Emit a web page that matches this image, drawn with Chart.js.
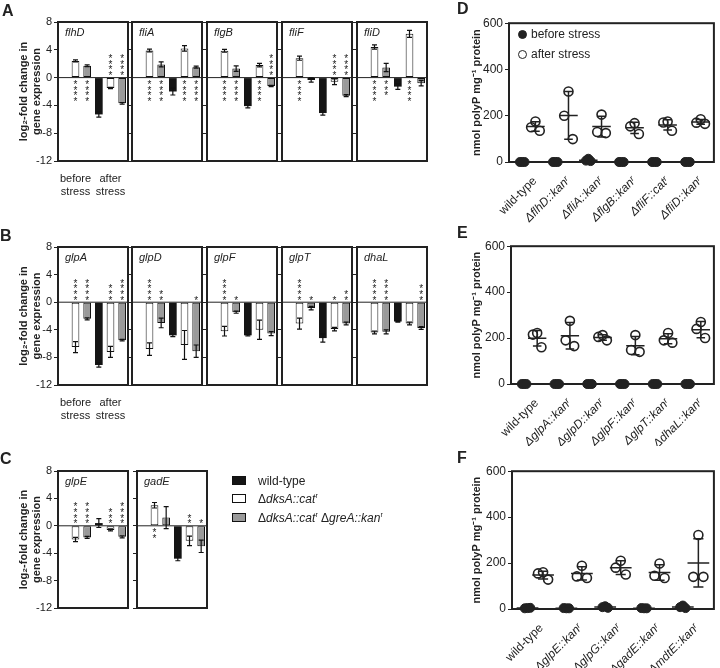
<!DOCTYPE html>
<html>
<head>
<meta charset="utf-8">
<script src="https://cdn.jsdelivr.net/npm/chart.js@4.4.1/dist/chart.umd.min.js"></script>
<style>
body{margin:0;background:#fff;}
#fig{position:relative;width:720px;height:668px;background:#fff;overflow:hidden;
  font-family:'Liberation Sans',Arial,Helvetica,sans-serif;color:#222;}
.pane{position:absolute;}
.tag{position:absolute;font-weight:bold;font-size:16px;line-height:16px;}
.lg{position:absolute;font-size:12px;line-height:14px;white-space:nowrap;}
.sq{position:absolute;width:14px;height:9px;box-sizing:border-box;border:1px solid #111;}
.dot{position:absolute;width:9px;height:9px;border-radius:50%;box-sizing:border-box;border:1.5px solid #222;}
sup{font-size:7px;line-height:0;}
</style>
</head>
<body>
<div id="fig"></div>
<script>
const FONT = "'Liberation Sans', Arial, Helvetica, sans-serif";
const INK = '#222';

// ---- bar panels (A-C): log2-fold change in gene expression ----
const groups = ['before stress', 'after stress'];
const strains = ['wild-type', 'ΔdksA::catʳ', 'ΔdksA::catʳ ΔgreA::kanʳ'];
const logTicks = [-12, 8, 4];   // min, max, step
// order: before wt, before dksA, before dksA greA, after wt, after dksA, after dksA greA
const flhD = [0, 2.4, 1.7, -5.3, -1.5, -3.7];
const flhD_sd = [0, 0.15, 0.12, 0.4, 0.1, 0.12];
const flhD_sig = ['', '****', '****', '', '****', '****'];
const fliA = [0, 3.9, 1.9, -2.0, 4.2, 1.5];
const fliA_sd = [0, 0.2, 0.35, 0.5, 0.4, 0.15];
const fliA_sig = ['', '****', '****', '', '****', '****'];
const flgB = [0, 3.85, 1.3, -4.1, 1.8, -1.2];
const flgB_sd = [0, 0.2, 0.4, 0.25, 0.25, 0.1];
const flgB_sig = ['', '****', '****', '', '****', '****'];
const fliF = [0, 2.8, -0.35, -5.1, -0.6, -2.6];
const fliF_sd = [0, 0.3, 0.3, 0.3, 0.4, 0.15];
const fliF_sig = ['', '****', '', '', '****', '****'];
const fliD = [0, 4.4, 1.45, -1.3, 6.3, -0.8];
const fliD_sd = [0, 0.3, 0.6, 0.4, 0.5, 0.4];
const fliD_sig = ['', '****', '***', '', '****', ''];

const glpA = [0, -6.5, -2.4, -9.1, -7.2, -5.5];
const glpA_sd = [0, 0.8, 0.15, 0.3, 0.8, 0.1];
const glpA_sig = ['', '****', '****', '', '***', '****'];
const glpD = [0, -6.8, -3.0, -4.8, -6.2, -7.1];
const glpD_sd = [0, 0.9, 0.7, 0.2, 2.1, 0.9];
const glpD_sig = ['', '****', '**', '', '', '*'];
const glpF = [0, -4.2, -1.45, -4.8, -4.0, -4.55];
const glpF_sd = [0, 0.7, 0.15, 0.1, 1.4, 0.3];
const glpF_sig = ['', '****', '*', '', '', ''];
const glpT = [0, -3.1, -0.85, -5.2, -3.9, -3.1];
const glpT_sd = [0, 0.8, 0.25, 0.6, 0.25, 0.2];
const glpT_sig = ['', '****', '*', '', '*', '**'];
const dhaL = [0, -4.4, -4.3, -2.8, -3.1, -3.75];
const dhaL_sd = [0, 0.2, 0.3, 0.1, 0.2, 0.2];
const dhaL_sig = ['', '****', '****', '', '', '***'];

const glpE = [0, -2.0, -1.7, 0.4, -0.6, -1.6];
const glpE_sd = [0, 0.3, 0.15, 0.65, 0.15, 0.15];
const glpE_sig = ['', '****', '****', '', '***', '****'];
const gadE = [0, 3.0, 1.2, -4.8, -2.2, -3.0];
const gadE_sd = [0, 0.4, 1.6, 0.3, 0.7, 0.9];
const gadE_sig = ['', '**', '', '', '**', '*'];

// ---- dot plots (D-F): nmol polyP mg-1 protein ----
const polyTicks = [0, 600, 200];
const dNames = ['wild-type', 'ΔflhD::kanʳ', 'ΔfliA::kanʳ', 'ΔflgB::kanʳ', 'ΔfliF::catʳ', 'ΔfliD::kanʳ'];
const dBefore = [[0, 0, 0], [0, 0, 0], [14, 6, 4], [0, 0, 0], [0, 0, 0], [0, 0, 0]];
const dAfter = [[175, 150, 135], [305, 200, 99], [205, 130, 125], [168, 154, 121], [175, 171, 135], [185, 170, 165]];
const eNames = ['wild-type', 'ΔglpA::kanʳ', 'ΔglpD::kanʳ', 'ΔglpF::kanʳ', 'ΔglpT::kanʳ', 'ΔdhaL::kanʳ'];
const eBefore = [[0, 0, 0], [0, 0, 0], [0, 0, 0], [0, 0, 0], [0, 0, 0], [0, 0, 0]];
const eAfter = [[222, 215, 160], [275, 190, 165], [213, 205, 190], [213, 148, 140], [222, 190, 180], [270, 240, 200]];
const fNames = ['wild-type', 'ΔglpE::kanʳ', 'ΔglpG::kanʳ', 'ΔgadE::kanʳ', 'ΔmdtE::kanʳ'];
const fBefore = [[4, 3, 5], [3, 4, 3], [12, 8, 5], [3, 4, 3], [15, 8, 4]];
const fAfter = [[160, 155, 128], [188, 142, 135], [210, 180, 150], [198, 145, 135], [322, 140, 140]];

const fig = document.getElementById('fig');

function addCanvas(left, top, width, height) {
  const d = document.createElement('div');
  d.className = 'pane';
  Object.assign(d.style, {left: left + 'px', top: top + 'px', width: width + 'px', height: height + 'px'});
  const c = document.createElement('canvas');
  d.appendChild(c);
  fig.appendChild(d);
  return c;
}

const framePlugin = {
  id: 'frame',
  afterDraw(chart) {
    const {ctx, chartArea: a} = chart;
    ctx.save();
    ctx.strokeStyle = INK;
    ctx.lineWidth = 2;
    ctx.strokeRect(a.left, a.top, a.right - a.left, a.bottom - a.top);
    ctx.restore();
  }
};

const barExtras = {
  id: 'barExtras',
  beforeDatasetsDraw(chart) {
    const {ctx, chartArea: a, scales: {y}} = chart;
    const y0 = y.getPixelForValue(0);
    ctx.save();
    ctx.strokeStyle = INK;
    ctx.lineWidth = 1;
    ctx.beginPath(); ctx.moveTo(a.left, y0); ctx.lineTo(a.right, y0); ctx.stroke();
    ctx.restore();
  },
  afterDatasetsDraw(chart, args, opts) {
    const {ctx, chartArea: a, scales: {y}} = chart;
    const y0 = y.getPixelForValue(0);
    ctx.save();
    chart.data.datasets.forEach((ds, d) => {
      chart.getDatasetMeta(d).data.forEach((bar, i) => {
        const v = ds.data[i], e = ds.sd[i];
        if (e > 0) {
          const t = y.getPixelForValue(v + e), b = y.getPixelForValue(v - e);
          ctx.strokeStyle = '#111'; ctx.lineWidth = 1.2;
          ctx.beginPath();
          ctx.moveTo(bar.x, t); ctx.lineTo(bar.x, b);
          ctx.moveTo(bar.x - 2.5, t); ctx.lineTo(bar.x + 2.5, t);
          ctx.moveTo(bar.x - 2.5, b); ctx.lineTo(bar.x + 2.5, b);
          ctx.stroke();
        }
        const s = ds.sig[i];
        if (s) {
          ctx.fillStyle = INK;
          ctx.font = '10px ' + FONT;
          ctx.textAlign = 'center';
          ctx.textBaseline = 'alphabetic';
          const dir = v >= 0 ? 1 : -1;
          for (let k = 0; k < s.length; k++) {
            const cy = y0 + dir * (4.5 + k * 5.6);
            ctx.fillText('*', bar.x, cy + 5.8);
          }
        }
      });
    });
    ctx.fillStyle = INK;
    ctx.font = 'italic 11px ' + FONT;
    ctx.textAlign = 'left';
    ctx.textBaseline = 'top';
    ctx.fillText(opts.name, a.left + 7, a.top + 5);
    ctx.restore();
  }
};

function barPanel(name, vals, sd, sig, box, showY, showX) {
  const axisW = showY ? box.l : 5;
  const padT = 9, padB = 9, xH = 34;
  const left = box.l - axisW;
  const width = axisW + (box.r - box.l) + 3;
  const top = box.t - padT;
  const height = padT + (box.b - box.t) + (showX ? xH : padB);
  const cv = addCanvas(left, top, width, height);
  const fills = ['#151515', '#ffffff', '#9a9a9a'];
  new Chart(cv, {
    type: 'bar',
    data: {
      labels: groups.map(g => g.split(' ')),
      datasets: strains.map((s, k) => ({
        label: s,
        data: [vals[k], vals[k + 3]],
        sd: [sd[k], sd[k + 3]],
        sig: [sig[k], sig[k + 3]],
        backgroundColor: fills[k],
        borderColor: '#111',
        borderWidth: k === 0 ? 0 : 1,
        borderSkipped: false,
        barPercentage: 0.66,
        categoryPercentage: 1
      }))
    },
    options: {
      responsive: true, maintainAspectRatio: false, animation: false,
      layout: {padding: {top: padT, right: 3, bottom: showX ? 0 : padB, left: 0}},
      plugins: {legend: {display: false}, tooltip: {enabled: false}, barExtras: {name}},
      scales: {
        x: {
          display: showX,
          grid: {display: false}, border: {display: false},
          ticks: {color: INK, font: {size: 11, family: FONT}, padding: 3, maxRotation: 0},
          afterFit: s => { s.height = showX ? xH : 0; }
        },
        y: {
          min: logTicks[0], max: logTicks[1],
          ticks: {stepSize: logTicks[2], display: showY, color: INK, font: {size: 11, family: FONT}, padding: 2},
          grid: {drawOnChartArea: false, tickLength: 4, color: INK, lineWidth: 1},
          border: {display: false},
          title: {display: showY, text: ['log₂-fold change in', 'gene expression'], color: INK,
            font: {size: 11, weight: 'bold', family: FONT}, padding: {top: 17, bottom: 0}},
          afterFit: s => { s.width = axisW; }
        }
      }
    },
    plugins: [barExtras, framePlugin]
  });
}

const cols = [58, 132, 207, 282, 357];
const rowA = {t: 22, b: 161}, rowB = {t: 247, b: 385}, rowC = {t: 471, b: 608};
const panelsA = [['flhD', flhD, flhD_sd, flhD_sig], ['fliA', fliA, fliA_sd, fliA_sig], ['flgB', flgB, flgB_sd, flgB_sig],
  ['fliF', fliF, fliF_sd, fliF_sig], ['fliD', fliD, fliD_sd, fliD_sig]];
const panelsB = [['glpA', glpA, glpA_sd, glpA_sig], ['glpD', glpD, glpD_sd, glpD_sig], ['glpF', glpF, glpF_sd, glpF_sig],
  ['glpT', glpT, glpT_sd, glpT_sig], ['dhaL', dhaL, dhaL_sd, dhaL_sig]];
const panelsC = [['glpE', glpE, glpE_sd, glpE_sig], ['gadE', gadE, gadE_sd, gadE_sig]];

panelsA.forEach((p, i) => barPanel(p[0], p[1], p[2], p[3], {l: cols[i], r: cols[i] + 70, t: rowA.t, b: rowA.b}, i === 0, i === 0));
panelsB.forEach((p, i) => barPanel(p[0], p[1], p[2], p[3], {l: cols[i], r: cols[i] + 70, t: rowB.t, b: rowB.b}, i === 0, i === 0));
const colsC = [58, 137];
panelsC.forEach((p, i) => barPanel(p[0], p[1], p[2], p[3], {l: colsC[i], r: colsC[i] + 70, t: rowC.t, b: rowC.b}, i === 0, false));

// ---- dot plots ----
function stats(a) {
  const m = a.reduce((s, v) => s + v, 0) / a.length;
  const sd = Math.sqrt(a.reduce((s, v) => s + (v - m) * (v - m), 0) / (a.length - 1));
  return [m, sd];
}

const meanPlugin = {
  id: 'meanSd',
  afterDatasetsDraw(chart) {
    const {ctx, scales: {x, y}} = chart;
    const unit = x.getPixelForValue(1) - x.getPixelForValue(0);
    ctx.save();
    ctx.strokeStyle = INK;
    ctx.lineWidth = 1.5;
    chart.data.datasets.forEach(ds => {
      ds.grp.forEach((vals, i) => {
        const [m, s] = stats(vals);
        const cx = x.getPixelForValue(i + ds.dx);
        const ym = y.getPixelForValue(m), yt = y.getPixelForValue(m + s), yb = y.getPixelForValue(Math.max(m - s, 0));
        ctx.beginPath();
        ctx.moveTo(cx - 0.28 * unit, ym); ctx.lineTo(cx + 0.28 * unit, ym);
        ctx.moveTo(cx, yt); ctx.lineTo(cx, yb);
        ctx.moveTo(cx - 0.13 * unit, yt); ctx.lineTo(cx + 0.13 * unit, yt);
        ctx.moveTo(cx - 0.13 * unit, yb); ctx.lineTo(cx + 0.13 * unit, yb);
        ctx.stroke();
      });
    });
    ctx.restore();
  }
};

function points(grp, dx, spread) {
  const jit = [0, -1, 1];
  const out = [];
  grp.forEach((vals, i) => vals.forEach((v, j) => out.push({x: i + dx + jit[j] * spread, y: v})));
  return out;
}

function dotPanel(names, before, after, area) {
  const left = 462, padT = 9, xH = 62;
  const axisW = area.l - left;
  const cv = addCanvas(left, area.t - padT, 720 - left, padT + (area.b - area.t) + xH);
  new Chart(cv, {
    type: 'scatter',
    data: {
      datasets: [
        {label: 'before stress', data: points(before, -0.2, 0.07), grp: before, dx: -0.2,
          pointRadius: 4.5, backgroundColor: INK, borderColor: INK, borderWidth: 1, clip: false},
        {label: 'after stress', data: points(after, 0.2, 0.13), grp: after, dx: 0.2,
          pointRadius: 4.5, backgroundColor: 'rgba(255,255,255,0)', borderColor: INK, borderWidth: 1.6, clip: false}
      ]
    },
    options: {
      responsive: true, maintainAspectRatio: false, animation: false,
      layout: {padding: {top: padT, right: 720 - area.r, bottom: 0, left: 0}},
      plugins: {legend: {display: false}, tooltip: {enabled: false}},
      scales: {
        x: {
          type: 'linear', min: -0.6, max: names.length - 0.4,
          afterBuildTicks: s => { s.ticks = names.map((n, i) => ({value: i})); },
          grid: {display: false}, border: {display: false},
          ticks: {
            autoSkip: false, minRotation: 45, maxRotation: 45, color: INK, padding: 4, labelOffset: 6,
            callback: v => names[v],
            font: c => ({size: 12, family: FONT, style: c.index === 0 ? 'normal' : 'italic'})
          },
          afterFit: s => { s.height = xH; }
        },
        y: {
          min: polyTicks[0], max: polyTicks[1],
          ticks: {stepSize: polyTicks[2], color: INK, font: {size: 12, family: FONT}, padding: 2},
          grid: {drawOnChartArea: false, tickLength: 4, color: INK, lineWidth: 1},
          border: {display: false},
          title: {display: true, text: 'nmol polyP mg⁻¹ protein', color: INK,
            font: {size: 11, weight: 'bold', family: FONT}, padding: {top: 8, bottom: 0}},
          afterFit: s => { s.width = axisW; }
        }
      }
    },
    plugins: [meanPlugin, framePlugin]
  });
}

dotPanel(dNames, dBefore, dAfter, {l: 509, r: 717, t: 23, b: 162});
dotPanel(eNames, eBefore, eAfter, {l: 511, r: 717, t: 246, b: 384});
dotPanel(fNames, fBefore, fAfter, {l: 512, r: 717, t: 471, b: 609});

// ---- letters and legends ----
function html(cls, x, y, inner) {
  const d = document.createElement('div');
  d.className = cls;
  d.style.left = x + 'px'; d.style.top = y + 'px';
  d.innerHTML = inner;
  fig.appendChild(d);
  return d;
}
[['A', 2, 3], ['B', 0, 228], ['C', 0, 451], ['D', 457, 1], ['E', 457, 225], ['F', 457, 450]]
  .forEach(t => html('tag', t[1], t[2], t[0]));

const sqFill = ['#151515', '#ffffff', '#9a9a9a'];
const sqText = ['wild-type', 'Δ<i>dksA::cat</i><sup>r</sup>', 'Δ<i>dksA::cat</i><sup>r</sup> Δ<i>greA::kan</i><sup>r</sup>'];
[481, 499, 518].forEach((cy, k) => {
  const s = html('sq', 232, cy - 5, '');
  s.style.background = sqFill[k];
  html('lg', 258, cy - 7, sqText[k]);
});
const d1 = html('dot', 518, 30, ''); d1.style.background = INK;
html('lg', 531, 27, 'before stress');
html('dot', 518, 50, '');
html('lg', 531, 47, 'after stress');
</script>
</body>
</html>
